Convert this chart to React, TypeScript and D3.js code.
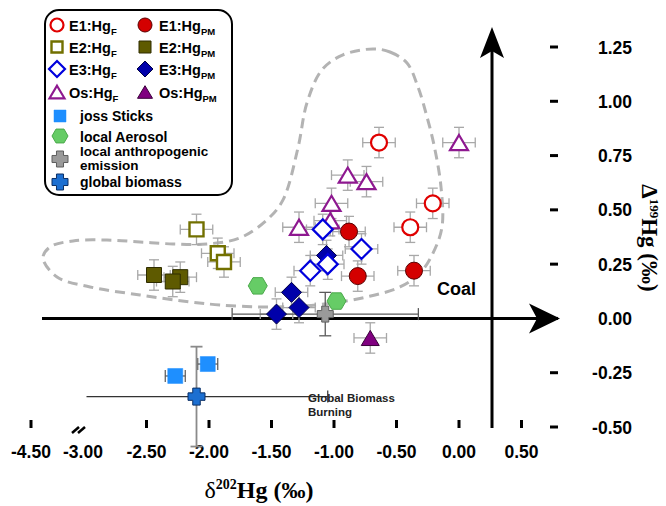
import React from 'react';
import * as d3 from 'd3';

const W = 666;
const H = 506;

// ---- axis ticks ----
const xTickLabelValues = [-4.5, -3.0, -2.5, -2.0, -1.5, -1.0, -0.5, 0.0, 0.5];
const xTickMarkValues = [-4.5, -2.5, -2.0, -1.5, -1.0, -0.5, 0.0, 0.5];
const xBreakValue = -3.0;
const yTickValues = [1.25, 1.0, 0.75, 0.5, 0.25, 0.0, -0.25, -0.5];
const yAxisCrossX = 0.264;

// ---- data (δ202Hg, Δ199Hg) ----
const e1F: [number, number][] = [[-0.64, 0.81], [-0.21, 0.53], [-0.39, 0.42]];
const e1PM: [number, number][] = [[-0.88, 0.40], [-0.81, 0.195], [-0.36, 0.22]];
const e2F: [number, number][] = [[-2.10, 0.41], [-1.93, 0.30], [-1.88, 0.26]];
const e2PM: [number, number][] = [[-2.44, 0.20], [-2.23, 0.19], [-2.29, 0.17]];
const e3F: [number, number][] = [[-1.09, 0.41], [-0.78, 0.32], [-1.19, 0.22], [-1.05, 0.25]];
const e3PM: [number, number][] = [[-1.06, 0.29], [-1.34, 0.12], [-1.28, 0.05], [-1.46, 0.02]];
const osF: [number, number][] = [[0.0, 0.81], [-0.89, 0.66], [-0.74, 0.63], [-1.02, 0.53], [-1.03, 0.45], [-1.28, 0.42]];
const osPM: [number, number][] = [[-0.71, -0.09]];
const jossSticks: [number, number][] = [[-2.27, -0.265], [-2.01, -0.21]];
const localAerosol: [number, number][] = [[-1.61, 0.15], [-0.98, 0.08]];
const localAnthro: [number, number] = [-1.07, 0.02];
const globalBiomass: [number, number] = [-2.10, -0.36];

const sampleErrX = 0.13;
const sampleErrY = 0.07;
const jossErrX = 0.08;
const anthroErrX = 0.745;
const anthroErrY = 0.10;
const biomassErrXLow = 0.88;
const biomassErrXHigh = 1.05;
const biomassErrY = 0.23;

// dashed envelope (coal field)
const envelope: [number, number][] = [
  [-0.688, 1.241], [-0.552, 1.227], [-0.416, 1.176], [-0.328, 1.066], [-0.256, 0.928],
  [-0.20, 0.799], [-0.144, 0.605], [-0.136, 0.421], [-0.208, 0.301], [-0.312, 0.209],
  [-0.472, 0.145], [-0.736, 0.099], [-1.008, 0.071], [-1.272, 0.057], [-1.592, 0.053],
  [-1.912, 0.062], [-2.152, 0.076], [-2.552, 0.108], [-2.952, 0.145], [-3.216, 0.191],
  [-3.328, 0.278], [-3.272, 0.329], [-3.088, 0.357], [-2.816, 0.361], [-2.552, 0.352],
  [-2.288, 0.343], [-2.016, 0.343], [-1.752, 0.371], [-1.536, 0.454], [-1.408, 0.546],
  [-1.288, 0.786], [-1.216, 0.993], [-1.096, 1.145], [-0.928, 1.214],
];

const xScale = d3.scaleLinear().domain([-2.5, 0.5]).range([146.5, 521.5]);
const xTickScale = d3.scaleLinear().domain([-4.5, -3.0, -2.5, 0.5]).range([31, 83, 146.5, 521.5]);
const yScale = d3.scaleLinear().domain([-0.5, 1.25]).range([427, 47]);

const SANS = "'Liberation Sans', Arial, sans-serif";
const SERIF = "'Liberation Serif', 'Times New Roman', serif";

type Shape = 'circle' | 'square' | 'diamond' | 'triangle' | 'hexagon' | 'cross';

function shapePath(shape: Shape, s: number): string {
  if (shape === 'circle') {
    const r = s / 2;
    return `M${r},0A${r},${r} 0 1,1 ${-r},0A${r},${r} 0 1,1 ${r},0Z`;
  }
  if (shape === 'square') {
    const h = s / 2;
    return `M${-h},${-h}H${h}V${h}H${-h}Z`;
  }
  if (shape === 'diamond') {
    const h = s / 2;
    return `M0,${-h}L${h},0L0,${h}L${-h},0Z`;
  }
  if (shape === 'triangle') {
    const w = s / 2;
    const hh = s * 0.42;
    return `M0,${-hh}L${w},${hh}L${-w},${hh}Z`;
  }
  if (shape === 'hexagon') {
    const r = s / 2;
    const pts = d3.range(6).map((i) => {
      const a = (Math.PI / 3) * i;
      return [r * Math.cos(a), r * Math.sin(a)];
    });
    return 'M' + pts.map((p) => p.join(',')).join('L') + 'Z';
  }
  // cross
  const a = s / 2;
  const b = s * 0.22;
  return `M${-b},${-a}H${b}V${-b}H${a}V${b}H${b}V${a}H${-b}V${b}H${-a}V${-b}H${-b}Z`;
}

interface Style { shape: Shape; size: number; fill: string; stroke: string; sw: number; }

const styles: Record<string, Style> = {
  e1F: { shape: 'circle', size: 16, fill: '#ffffff', stroke: '#e00000', sw: 2.2 },
  e1PM: { shape: 'circle', size: 17, fill: '#d40000', stroke: '#5a0000', sw: 1 },
  e2F: { shape: 'square', size: 14, fill: '#ffffff', stroke: '#727000', sw: 2.4 },
  e2PM: { shape: 'square', size: 15, fill: '#5e5a00', stroke: '#2e2c00', sw: 1 },
  e3F: { shape: 'diamond', size: 20, fill: '#ffffff', stroke: '#0000dd', sw: 2.2 },
  e3PM: { shape: 'diamond', size: 20, fill: '#0000aa', stroke: '#000044', sw: 1 },
  osF: { shape: 'triangle', size: 18, fill: '#ffffff', stroke: '#8e1890', sw: 2.2 },
  osPM: { shape: 'triangle', size: 18, fill: '#800080', stroke: '#3a003a', sw: 1 },
  joss: { shape: 'square', size: 15, fill: '#1e8fff', stroke: '#1e8fff', sw: 0.5 },
  aerosol: { shape: 'hexagon', size: 19, fill: '#66cc66', stroke: '#4aa94a', sw: 1 },
  anthro: { shape: 'cross', size: 16, fill: '#9a9a9a', stroke: '#5e5e5e', sw: 1 },
  biomass: { shape: 'cross', size: 17, fill: '#1c6fd1', stroke: '#0a2f66', sw: 1 },
};

const legendStyles: Record<string, Style> = {
  e1F: { ...styles.e1F, size: 13 },
  e1PM: { ...styles.e1PM, size: 14 },
  e2F: { ...styles.e2F, size: 11 },
  e2PM: { ...styles.e2PM, size: 12 },
  e3F: { ...styles.e3F, size: 16 },
  e3PM: { ...styles.e3PM, size: 16 },
  osF: { ...styles.osF, size: 15 },
  osPM: { ...styles.osPM, size: 15 },
  joss: { ...styles.joss, size: 12 },
  aerosol: { ...styles.aerosol, size: 16 },
  anthro: { ...styles.anthro, size: 16 },
  biomass: { ...styles.biomass, size: 16 },
};

const Marker = ({ x, y, st }: { x: number; y: number; st: Style }) => (
  <path d={shapePath(st.shape, st.size)} transform={`translate(${x},${y})`} fill={st.fill} stroke={st.stroke} strokeWidth={st.sw} />
);

const ErrBar = ({ p, ex, ey, color = '#a8a8a8', cap = 5, sw = 1.3 }: { p: [number, number]; ex: number; ey: number; color?: string; cap?: number; sw?: number }) => {
  const cx = xScale(p[0]);
  const cy = yScale(p[1]);
  const x0 = xScale(p[0] - ex), x1 = xScale(p[0] + ex);
  const y0 = yScale(p[1] + ey), y1 = yScale(p[1] - ey);
  return (
    <g stroke={color} strokeWidth={sw} fill="none">
      {ex > 0 && (
        <>
          <line x1={x0} x2={x1} y1={cy} y2={cy} />
          <line x1={x0} x2={x0} y1={cy - cap} y2={cy + cap} />
          <line x1={x1} x2={x1} y1={cy - cap} y2={cy + cap} />
        </>
      )}
      {ey > 0 && (
        <>
          <line x1={cx} x2={cx} y1={y0} y2={y1} />
          <line x1={cx - cap} x2={cx + cap} y1={y0} y2={y0} />
          <line x1={cx - cap} x2={cx + cap} y1={y1} y2={y1} />
        </>
      )}
    </g>
  );
};

const sampleSeries: { key: string; data: [number, number][] }[] = [
  { key: 'osF', data: osF },
  { key: 'osPM', data: osPM },
  { key: 'e2F', data: e2F },
  { key: 'e2PM', data: e2PM },
  { key: 'e1F', data: e1F },
  { key: 'e1PM', data: e1PM },
  { key: 'e3PM', data: e3PM },
  { key: 'e3F', data: e3F },
];

const LegendLabel = ({ x, y, main, sub }: { x: number; y: number; main: string; sub: string }) => (
  <text x={x} y={y} fontFamily={SANS} fontWeight="bold" fontSize={14.5} fill="#000">
    {main}
    <tspan fontSize={9.5} dy={4}>{sub}</tspan>
  </text>
);

export default function App() {
  const envPath = d3.line<[number, number]>()
    .x((d) => xScale(d[0]))
    .y((d) => yScale(d[1]))
    .curve(d3.curveCatmullRomClosed.alpha(0.5))(envelope) || '';

  const y0 = yScale(0);
  const axX = xScale(yAxisCrossX);

  const bm = globalBiomass;
  const bmx = xScale(bm[0]);
  const bmy = yScale(bm[1]);

  const rows = [
    { y: 25, l: 'e1F', r: 'e1PM', t: 'E1:Hg' },
    { y: 47, l: 'e2F', r: 'e2PM', t: 'E2:Hg' },
    { y: 69, l: 'e3F', r: 'e3PM', t: 'E3:Hg' },
    { y: 92, l: 'osF', r: 'osPM', t: 'Os:Hg' },
  ];

  return (
    <svg width={W} height={H} style={{ position: 'absolute', left: 0, top: 0, background: '#fff' }}>
      <rect width={W} height={H} fill="#fff" />

      {/* envelope */}
      <path d={envPath} fill="none" stroke="#b3b3b3" strokeWidth={3} strokeDasharray="10,6" />

      {/* axes */}
      <line x1={42} x2={540} y1={y0} y2={y0} stroke="#000" strokeWidth={3} />
      <path d={`M560,${y0}L529,${y0 - 15}L537,${y0}L529,${y0 + 15}Z`} fill="#000" />
      <line x1={axX} x2={axX} y1={428} y2={50} stroke="#000" strokeWidth={3} />
      <path d={`M${axX},27L${axX + 12},58L${axX},51L${axX - 12},58Z`} fill="#000" />

      {/* x ticks */}
      {xTickMarkValues.map((v) => (
        <line key={v} x1={xTickScale(v)} x2={xTickScale(v)} y1={420} y2={428} stroke="#000" strokeWidth={3} />
      ))}
      <g stroke="#000" strokeWidth={2.5}>
        <line x1={xTickScale(xBreakValue) - 11} x2={xTickScale(xBreakValue) - 4} y1={433} y2={427} />
        <line x1={xTickScale(xBreakValue) - 5} x2={xTickScale(xBreakValue) + 2} y1={433} y2={427} />
      </g>
      {xTickLabelValues.map((v) => (
        <text key={v} x={xTickScale(v)} y={458} textAnchor="middle" fontFamily={SANS} fontWeight="bold" fontSize={17.5} fill="#000">
          {v.toFixed(2)}
        </text>
      ))}

      {/* y ticks */}
      {yTickValues.map((v) => (
        <line key={v} x1={550} x2={558} y1={yScale(v)} y2={yScale(v)} stroke="#000" strokeWidth={3} />
      ))}
      {yTickValues.map((v) => (
        <text key={v} x={632} y={yScale(v) + 6.5} textAnchor="end" fontFamily={SANS} fontWeight="bold" fontSize={17.5} fill="#000">
          {v.toFixed(2)}
        </text>
      ))}

      {/* axis titles */}
      <text x={259} y={498} textAnchor="middle" fontFamily={SERIF} fontWeight="bold" fontSize={24} fill="#000">
        <tspan fontWeight="normal">δ</tspan>
        <tspan fontSize={14} dy={-9}>202</tspan>
        <tspan dy={9}>Hg (‰)</tspan>
      </text>
      <text transform="translate(642,238) rotate(90)" textAnchor="middle" fontFamily={SERIF} fontWeight="bold" fontSize={23} fill="#000">
        <tspan>Δ</tspan>
        <tspan fontSize={13} dy={-8}>199</tspan>
        <tspan dy={8}>Hg (‰)</tspan>
      </text>

      {/* error bars */}
      {sampleSeries.map((s) =>
        s.data.map((p, i) => <ErrBar key={s.key + i} p={p} ex={sampleErrX} ey={sampleErrY} />)
      )}
      {jossSticks.map((p, i) => (
        <ErrBar key={'j' + i} p={p} ex={jossErrX} ey={0} color="#555" cap={6} sw={1.2} />
      ))}
      <ErrBar p={localAnthro} ex={anthroErrX} ey={anthroErrY} color="#5a5a5a" cap={6} sw={1.3} />
      <g>
        <line x1={xScale(bm[0] - biomassErrXLow)} x2={xScale(bm[0] + biomassErrXHigh)} y1={bmy} y2={bmy} stroke="#333" strokeWidth={1.2} />
        <line x1={xScale(bm[0] + biomassErrXHigh)} x2={xScale(bm[0] + biomassErrXHigh)} y1={bmy - 6} y2={bmy + 6} stroke="#333" strokeWidth={1.2} />
        <line x1={bmx} x2={bmx} y1={yScale(bm[1] + biomassErrY)} y2={yScale(bm[1] - biomassErrY)} stroke="#8a8a8a" strokeWidth={1.8} />
        <line x1={bmx - 6} x2={bmx + 6} y1={yScale(bm[1] + biomassErrY)} y2={yScale(bm[1] + biomassErrY)} stroke="#8a8a8a" strokeWidth={1.8} />
        <line x1={bmx - 6} x2={bmx + 6} y1={yScale(bm[1] - biomassErrY)} y2={yScale(bm[1] - biomassErrY)} stroke="#8a8a8a" strokeWidth={1.8} />
      </g>

      {/* markers */}
      {localAerosol.map((p, i) => <Marker key={'a' + i} x={xScale(p[0])} y={yScale(p[1])} st={styles.aerosol} />)}
      {sampleSeries.map((s) =>
        s.data.map((p, i) => <Marker key={s.key + 'm' + i} x={xScale(p[0])} y={yScale(p[1])} st={styles[s.key]} />)
      )}
      {jossSticks.map((p, i) => <Marker key={'jm' + i} x={xScale(p[0])} y={yScale(p[1])} st={styles.joss} />)}
      <Marker x={xScale(localAnthro[0])} y={yScale(localAnthro[1])} st={styles.anthro} />
      <Marker x={bmx} y={bmy} st={styles.biomass} />

      {/* annotations */}
      <text x={437} y={295} fontFamily={SANS} fontWeight="bold" fontSize={18} fill="#000">Coal</text>
      <text x={308} y={402} fontFamily={SANS} fontWeight="bold" fontSize={11.5} fill="#222">Global Biomass</text>
      <text x={308} y={416} fontFamily={SANS} fontWeight="bold" fontSize={11.5} fill="#222">Burning</text>

      {/* legend */}
      <rect x={45} y={10} width={187} height={185} rx={14} ry={14} fill="#fff" stroke="#000" strokeWidth={2} />
      {rows.map((r) => (
        <g key={r.l}>
          <Marker x={57} y={r.y} st={legendStyles[r.l]} />
          <LegendLabel x={69} y={r.y + 6} main={r.t} sub="F" />
          <Marker x={145} y={r.y} st={legendStyles[r.r]} />
          <LegendLabel x={159} y={r.y + 6} main={r.t} sub="PM" />
        </g>
      ))}
      <Marker x={60} y={116} st={legendStyles.joss} />
      <text x={80} y={121} fontFamily={SANS} fontWeight="bold" fontSize={14} fill="#000">joss Sticks</text>
      <Marker x={60} y={136} st={legendStyles.aerosol} />
      <text x={80} y={141.5} fontFamily={SANS} fontWeight="bold" fontSize={14} fill="#000">local Aerosol</text>
      <Marker x={60} y={159} st={legendStyles.anthro} />
      <text x={80} y={156} fontFamily={SANS} fontWeight="bold" fontSize={13.5} fill="#000">local anthropogenic</text>
      <text x={80} y={169.5} fontFamily={SANS} fontWeight="bold" fontSize={13.5} fill="#000">emission</text>
      <Marker x={60} y={182} st={legendStyles.biomass} />
      <text x={80} y={187} fontFamily={SANS} fontWeight="bold" fontSize={14} fill="#000">global biomass</text>
    </svg>
  );
}
